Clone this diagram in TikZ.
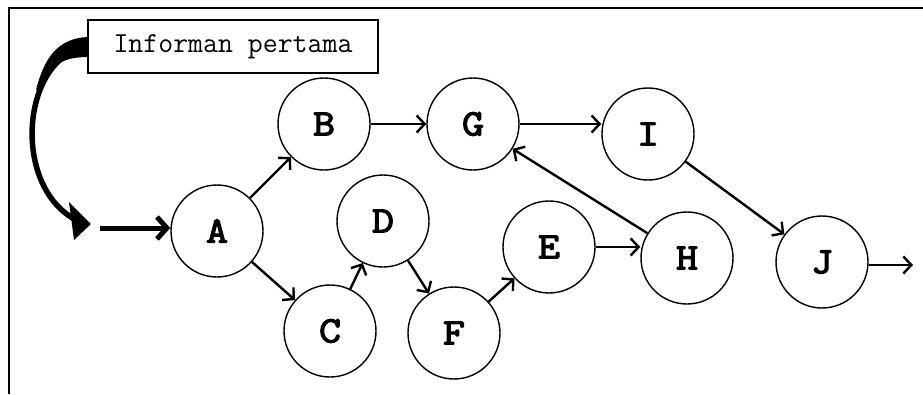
\documentclass[tikz,border=0pt]{standalone}
\usepackage{fontspec}
\newfontfamily\circfont{Latin Modern Mono}[AutoFakeBold=3.5,FakeStretch=1.15]
\usetikzlibrary{arrows.meta}
\tikzset{
  st/.style={circle, draw, line width=1.4pt, minimum size=92pt, inner sep=0pt, font=\circfont\bfseries\fontsize{37}{37}\selectfont},
  ar/.style={line width=2.4pt, -{Straight Barb[length=8pt,width=17pt,line width=2.4pt]}},
  infobox/.style={draw, line width=1.4pt, minimum width=290pt, minimum height=53pt, font=\ttfamily\fontsize{29}{29}\selectfont},
}
\begin{document}
\begin{tikzpicture}[x=1pt,y=-1pt]
\useasboundingbox (0,0) rectangle (923,394);
% frame
\draw[line width=2pt] (9,394) -- (9,8) -- (925,8);
% info box
\node[infobox] (info) at (233,46.5) {Informan pertama};
% nodes
\node[st] (A) at (217,231) {A};
\node[st] (B) at (324,124) {B};
\node[st] (C) at (330,331) {C};
\node[st] (D) at (383,221) {D};
\node[st] (G) at (473,124) {G};
\node[st] (I) at (648,134) {I};
\node[st] (E) at (549,247) {E};
\node[st] (H) at (687,258) {H};
\node[st] (J) at (822,262) {J};
\node[st] (F) at (454,333) {F};
% curved block arrow from info box
\fill (88,37) .. controls (58,38) and (44,58) .. (36,90) -- (42,90) .. controls (50,65) and (62,57) .. (88,57) -- cycle;
\draw[line width=5.5pt] (88,47) .. controls (22,55) and (10,185) .. (76,220);
\fill (69,202) -- (91,224) -- (74,240) -- cycle;
% entry arrow
\coordinate (in) at (100,228);
\draw[line width=5pt, -{Straight Barb[length=10pt,width=22pt,line width=5pt]}] (in) -- (A.west |- in);
% edges
\draw[ar] (A) -- (B);
\draw[ar] (A) -- (C);
\draw[ar] (C) -- (D);
\draw[ar] (D) -- (F);
\draw[ar] (B) -- (G);
\draw[ar] (G.east) -- (I.west |- G.east);
\draw[ar] (I) -- (J);
\draw[ar] (F) -- (E);
\draw[ar] (E.east) -- (H.west |- E.east);
\draw[ar] (H) -- (G);
\coordinate (out) at (913,265);
\draw[ar] (J.east |- out) -- (out);
\end{tikzpicture}
\end{document}
